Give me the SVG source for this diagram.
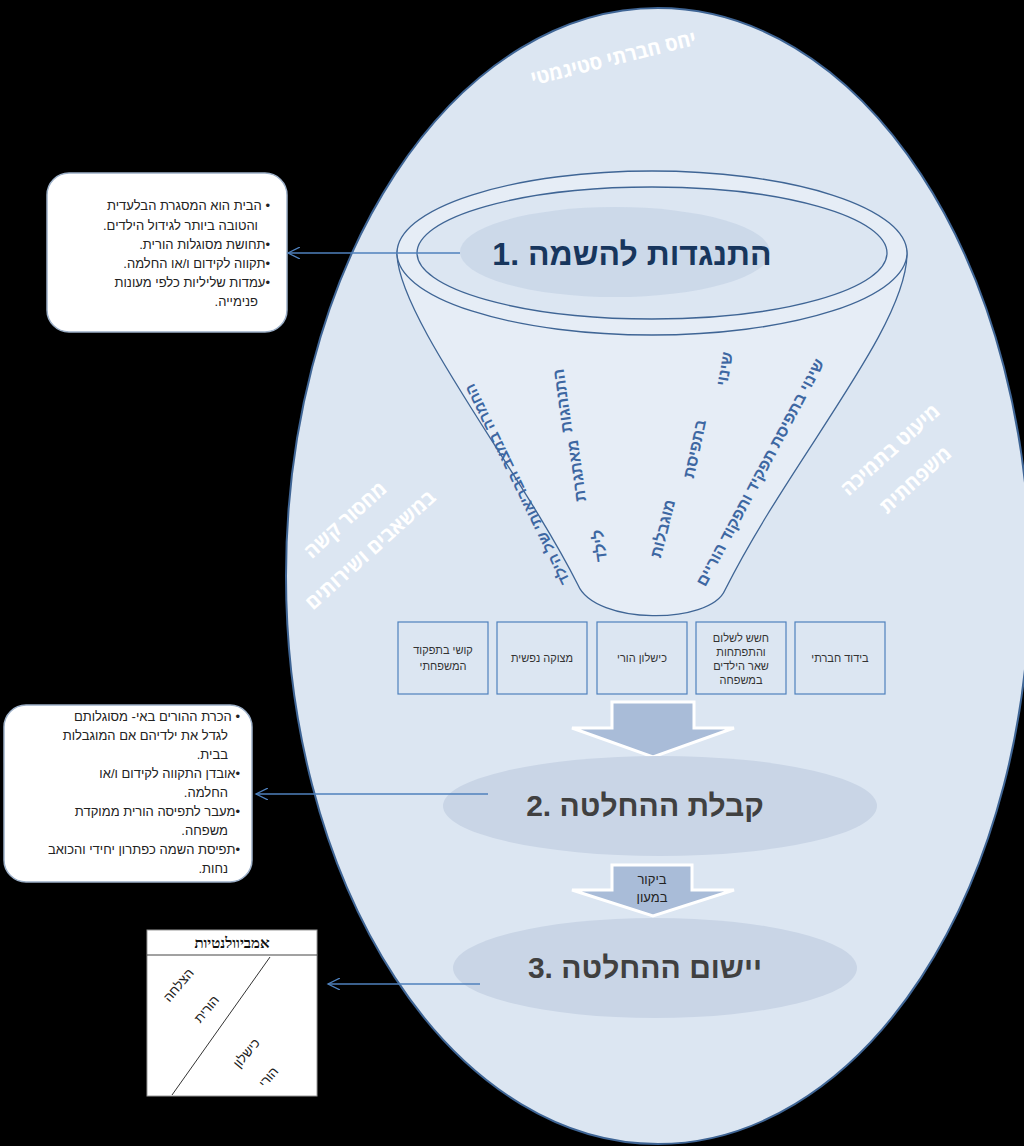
<svg xmlns="http://www.w3.org/2000/svg" width="1024" height="1146" viewBox="0 0 1024 1146">
<defs>
<style>
.cb{fill:#fff;stroke:#9db0c8;stroke-width:1.5}
.ct{font-family:"Liberation Sans",sans-serif;font-size:13px;fill:#222}
.bx{fill:#dce6f2;stroke:#4f81bd;stroke-width:1.2}
.bt{font-family:"Liberation Sans",sans-serif;font-size:11px;fill:#333;text-anchor:middle}
.wl{font-family:"Open Sans","Liberation Sans",sans-serif;font-size:20px;font-weight:bold;fill:#fff;text-anchor:middle}
.fl{font-family:"Liberation Sans",sans-serif;font-size:16px;font-weight:bold;fill:#3d67a2;text-anchor:middle}
.ln{stroke:#4f81bd;stroke-width:1.3;fill:none}
</style>
<marker id="ah" markerWidth="14" markerHeight="12" refX="12" refY="6" orient="auto" markerUnits="userSpaceOnUse"><path d="M0,0 L12,6 L0,12" fill="none" stroke="#4f81bd" stroke-width="1.3"/></marker>
</defs>
<rect width="1024" height="1146" fill="#000"/>
<g id="outer">
<ellipse cx="658" cy="576" rx="372" ry="568" fill="#dce6f2" stroke="#3f6595" stroke-width="2"/>
<text class="wl" transform="translate(615,65) rotate(-14)">יחס חברתי סטיגמטי</text>
<text class="wl" transform="translate(350,525) rotate(-42)">מחסור קשה</text>
<text class="wl" transform="translate(375,555) rotate(-42)">במשאבים ושירותים</text>
<text class="wl" transform="translate(895,455) rotate(-42)">מיעוט בתמיכה</text>
<text class="wl" transform="translate(920,485) rotate(-42)">משפחתית</text>
</g>
<g id="funnel">
<path d="M397,255 C400,320 520,470 578,585 C595,625 710,625 725,590 C790,460 905,330 907,255 A255,82 0 0 0 397,255 Z" fill="#e6edf6" stroke="#3f6595" stroke-width="1.3"/>
<ellipse cx="652" cy="253" rx="255" ry="82" fill="#e6edf6" stroke="#3f6595" stroke-width="1.3"/>
<ellipse cx="652" cy="253" rx="235" ry="66" fill="#dce6f2" stroke="#3f6595" stroke-width="1.3"/>
<ellipse cx="615" cy="252" rx="155" ry="45" fill="#c5d3e6" opacity="0.7"/>
<text x="632" y="265" text-anchor="middle" font-family="Liberation Sans,sans-serif" font-size="32" font-weight="bold" fill="#17365d">1. התנגדות להשמה</text>
<text class="fl" style="font-size:15px" transform="translate(522,482) rotate(-116)">החמרה במצב הבריאותי של הילד</text>
<text class="fl" transform="translate(568,400) rotate(-98)">התנהגות</text>
<text class="fl" transform="translate(582,470) rotate(-98)">מאתגרת</text>
<text class="fl" transform="translate(605,545) rotate(-98)">לילד</text>
<text class="fl" transform="translate(730,370) rotate(-80)">שינוי</text>
<text class="fl" transform="translate(700,450) rotate(-78)">בתפיסת</text>
<text class="fl" transform="translate(668,530) rotate(-76)">מוגבלות</text>
<text class="fl" transform="translate(765,475) rotate(-62)">שינוי בתפיסת תפקיד ותפקוד הוריים</text>
</g>
<g id="boxes">
<rect class="bx" x="398" y="622" width="90" height="72"/>
<text class="bt" x="443" y="654">קושי בתפקוד</text><text class="bt" x="443" y="670">המשפחתי</text>
<rect class="bx" x="497" y="622" width="90" height="72"/>
<text class="bt" x="542" y="662">מצוקה נפשית</text>
<rect class="bx" x="597" y="622" width="90" height="72"/>
<text class="bt" x="642" y="662">כישלון הורי</text>
<rect class="bx" x="696" y="622" width="90" height="72"/>
<text class="bt" x="741" y="642">חשש לשלום</text><text class="bt" x="741" y="656">והתפתחות</text><text class="bt" x="741" y="670">שאר הילדים</text><text class="bt" x="741" y="684">במשפחה</text>
<rect class="bx" x="795" y="622" width="90" height="72"/>
<text class="bt" x="840" y="662">בידוד חברתי</text>
</g>
<g id="arrow1"><path d="M612,702 H694 V728 H734 L653,757 L572,728 H612 Z" fill="#a9bcd8" stroke="#fff" stroke-width="3"/></g>
<g id="stage2">
<ellipse cx="660" cy="806" rx="217" ry="50" fill="#c9d5e6"/>
<text x="645" y="816" text-anchor="middle" font-family="Liberation Sans,sans-serif" font-size="30" font-weight="bold" fill="#404040">2. קבלת ההחלטה</text>
</g>
<g id="arrow2"><path d="M612,865 H692 V890 H734 L653,916 L572,890 H612 Z" fill="#a9bcd8" stroke="#fff" stroke-width="3"/>
<text x="652" y="884" text-anchor="middle" font-family="Liberation Sans,sans-serif" font-size="13" fill="#222">ביקור</text>
<text x="652" y="902" text-anchor="middle" font-family="Liberation Sans,sans-serif" font-size="13" fill="#222">במעון</text></g>
<g id="stage3">
<ellipse cx="655" cy="968" rx="202" ry="50" fill="#c9d5e6"/>
<text x="645" y="978" text-anchor="middle" font-family="Liberation Sans,sans-serif" font-size="30" font-weight="bold" fill="#404040">3. יישום ההחלטה</text>
</g>
<g id="callout1">
<rect class="cb" x="47" y="173" width="240" height="159" rx="22"/>
<g class="ct" text-anchor="start" direction="rtl">
<text x="270" y="210">• הבית הוא המסגרת הבלעדית</text>
<text x="258" y="230">והטובה ביותר לגידול הילדים.</text>
<text x="270" y="249">•תחושת מסוגלות הורית.</text>
<text x="270" y="268">•תקווה לקידום ו/או החלמה.</text>
<text x="270" y="287">•עמדות שליליות כלפי מעונות</text>
<text x="258" y="306">פנימייה.</text>
</g></g>
<g id="callout2">
<rect class="cb" x="4" y="705" width="248" height="177" rx="22"/>
<g class="ct" text-anchor="start" direction="rtl">
<text x="240" y="721">• הכרת ההורים באי- מסוגלותם</text>
<text x="228" y="740">לגדל את ילדיהם אם המוגבלות</text>
<text x="228" y="759">בבית.</text>
<text x="240" y="778">•אובדן התקווה לקידום ו/או</text>
<text x="228" y="797">החלמה.</text>
<text x="240" y="816">•מעבר לתפיסה הורית ממוקדת</text>
<text x="228" y="835">משפחה.</text>
<text x="240" y="854">•תפיסת השמה כפתרון יחידי והכואב</text>
<text x="228" y="873">נחות.</text>
</g>
</g>
<g id="callout3">
<rect x="147" y="930" width="170" height="166" fill="#fff" stroke="#999"/>
<path d="M147,955 H317" stroke="#444" stroke-width="1"/>
<text x="232" y="948" text-anchor="middle" font-family="Liberation Serif,serif" font-size="15" font-weight="bold" fill="#111">אמביוולנטיות</text>
<path d="M172,1095 L270,957" stroke="#333" stroke-width="1" fill="none"/>
<text class="ct" transform="translate(182,988) rotate(-50)" text-anchor="middle">הצלחה</text>
<text class="ct" transform="translate(210,1012) rotate(-50)" text-anchor="middle">הורית</text>
<text class="ct" transform="translate(250,1056) rotate(-50)" text-anchor="middle">כישלון</text>
<text class="ct" transform="translate(272,1080) rotate(-50)" text-anchor="middle">הורי</text>
</g>
<g id="connectors">
<path class="ln" d="M460,253 H288" marker-end="url(#ah)"/>
<path class="ln" d="M488,794 H256" marker-end="url(#ah)"/>
<path class="ln" d="M480,984 H328" marker-end="url(#ah)"/>
</g>
</svg>
